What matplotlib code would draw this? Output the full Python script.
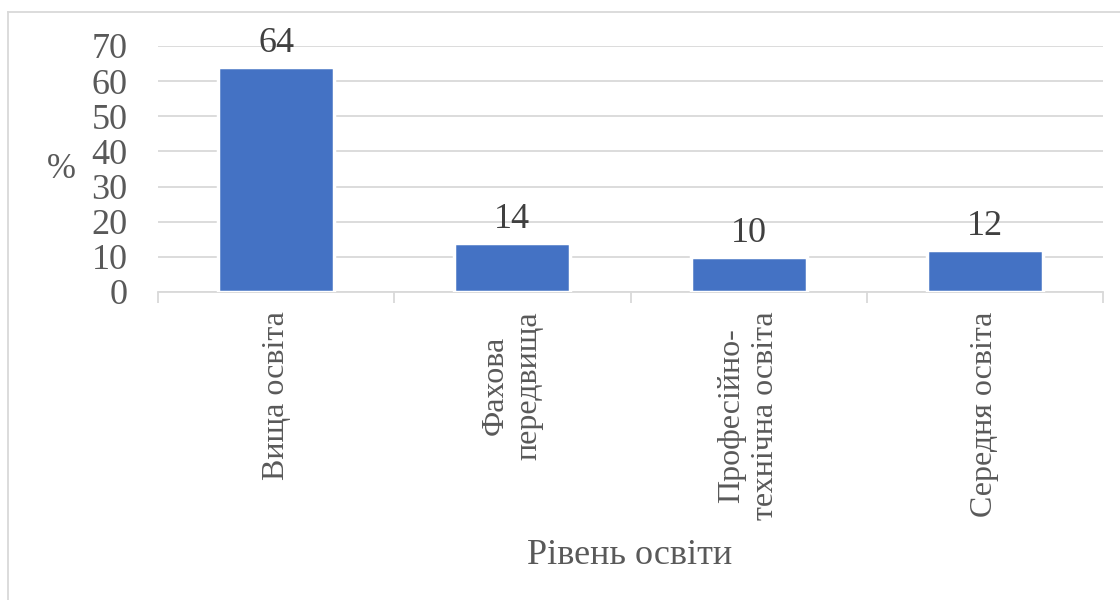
import matplotlib.pyplot as plt
from matplotlib.lines import Line2D

categories = ["Вища освіта", "Фахова\nпередвища", "Професійно-\nтехнічна освіта", "Середня освіта"]
values = [64, 14, 10, 12]
yticks = [0, 10, 20, 30, 40, 50, 60, 70]

plt.rcParams['font.family'] = ['Liberation Serif', 'DejaVu Serif']

bar_color = '#4472C4'
grid_color = '#D9D9D9'
text_color = '#595959'

fig = plt.figure(figsize=(11.2, 6), dpi=100)
ax = fig.add_axes([158 / 1120, 1 - 292 / 600, 945 / 1120, 246 / 600])

x = list(range(len(categories)))
bars = ax.bar(x, values, width=0.49, color=bar_color, edgecolor='white',
              linewidth=2.5, zorder=3)

# Value labels above each bar.
ax.bar_label(bars, labels=[str(v) for v in values], padding=5,
             fontsize=26, color='#404040')

ax.set_xlim(-0.5, len(categories) - 0.5)
ax.set_ylim(0, 70)
ax.set_yticks(yticks)
ax.yaxis.grid(True, color=grid_color, linewidth=1.3, zorder=0)
ax.set_axisbelow(True)

for side in ['top', 'right', 'left']:
    ax.spines[side].set_visible(False)
ax.spines['bottom'].set_color(grid_color)
ax.spines['bottom'].set_linewidth(1.3)

ax.tick_params(axis='y', length=0, pad=22, labelsize=26, labelcolor=text_color)

# Category labels at bar centres, separator ticks at the category boundaries.
ax.set_xticks(x)
ax.set_xticklabels(categories, rotation=90, fontsize=23, color=text_color,
                   multialignment='center', linespacing=1.23)
ax.tick_params(axis='x', which='major', length=0, pad=14)
ax.set_xticks([i - 0.5 for i in range(len(categories) + 1)], minor=True)
ax.tick_params(axis='x', which='minor', length=8, width=1.3, color=grid_color)

ax.set_ylabel('%', rotation=0, fontsize=25, color=text_color,
              va='center', ha='center')
ax.yaxis.set_label_coords(-97 / 945, 0.5)

fig.text(630 / 1120, 1 - 556 / 600, 'Рівень освіти', fontsize=26,
         color=text_color, ha='center', va='center')

# Chart border along the top and left edges.
fig.add_artist(Line2D([8 / 1120, 1], [1 - 12 / 600, 1 - 12 / 600],
                      color=grid_color, linewidth=1.3, transform=fig.transFigure))
fig.add_artist(Line2D([8 / 1120, 8 / 1120], [0, 1 - 12 / 600],
                      color=grid_color, linewidth=1.3, transform=fig.transFigure))

fig.savefig('out.png', dpi=100)
plt.close()
